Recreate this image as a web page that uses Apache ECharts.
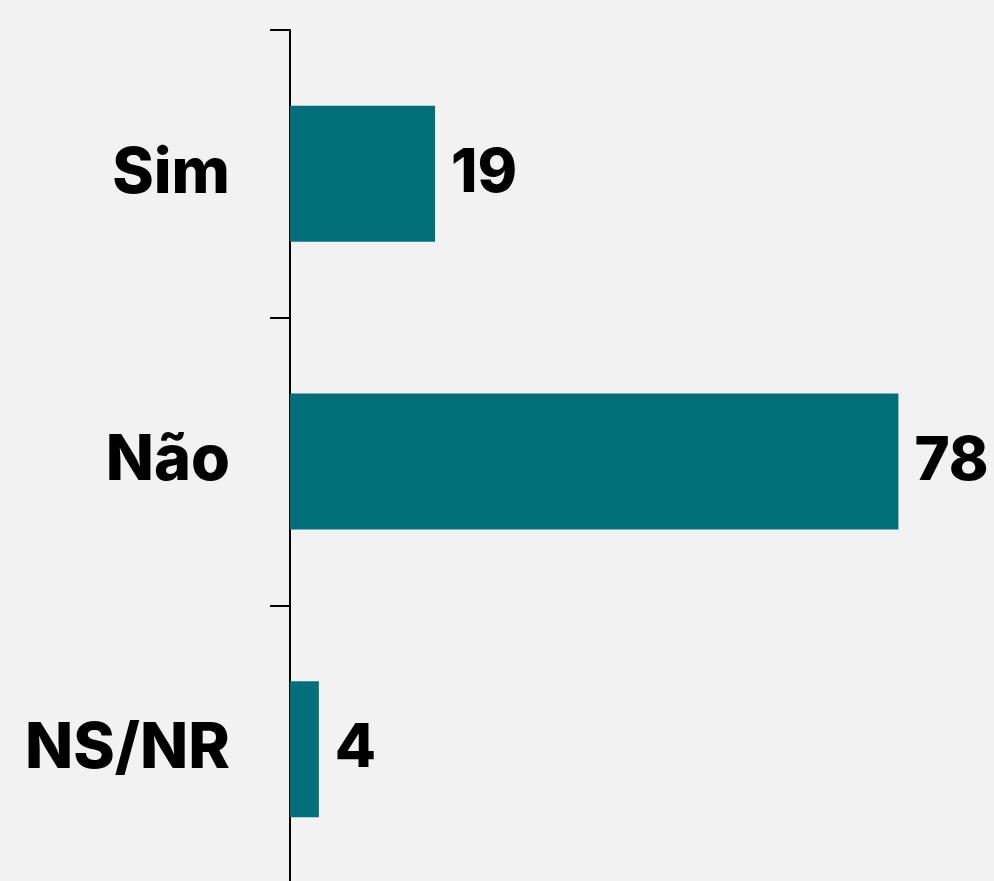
<!DOCTYPE html>
<html>
<head>
<meta charset="utf-8">
<script src="https://cdn.jsdelivr.net/npm/echarts@6/dist/echarts.min.js"></script>
<style>
html,body{margin:0;padding:0;background:#f2f2f2;overflow:hidden;}
#chart{width:994px;height:893px;}
</style>
</head>
<body>
<div id="chart"></div>
<script>
const categories = ['Sim', 'Não', 'NS/NR'];
const values = [18.6, 78, 3.7];
const xMax = 90;

const chart = echarts.init(document.getElementById('chart'));
chart.setOption({
  backgroundColor: '#f2f2f2',
  animation: false,
  grid: { left: 290, right: 2, top: 30, bottom: 0, containLabel: false },
  xAxis: {
    type: 'value', min: 0, max: xMax, show: false
  },
  yAxis: {
    type: 'category', data: categories, inverse: true,
    axisLine: { show: true, lineStyle: { color: '#000', width: 2 } },
    axisTick: { show: true, length: 20, lineStyle: { color: '#000', width: 2 } },
    axisLabel: { margin: 60, color: '#000', fontFamily: 'Inter', fontWeight: 800, fontSize: 63 }
  },
  series: [{
    type: 'bar', data: values, barWidth: '47.3%',
    itemStyle: { color: '#01707a' },
    label: {
      show: true, position: 'right', distance: 16,
      formatter: p => Math.round(p.value),
      color: '#000', fontFamily: 'Inter', fontWeight: 800, fontSize: 60
    }
  }]
});
</script>
</body>
</html>
